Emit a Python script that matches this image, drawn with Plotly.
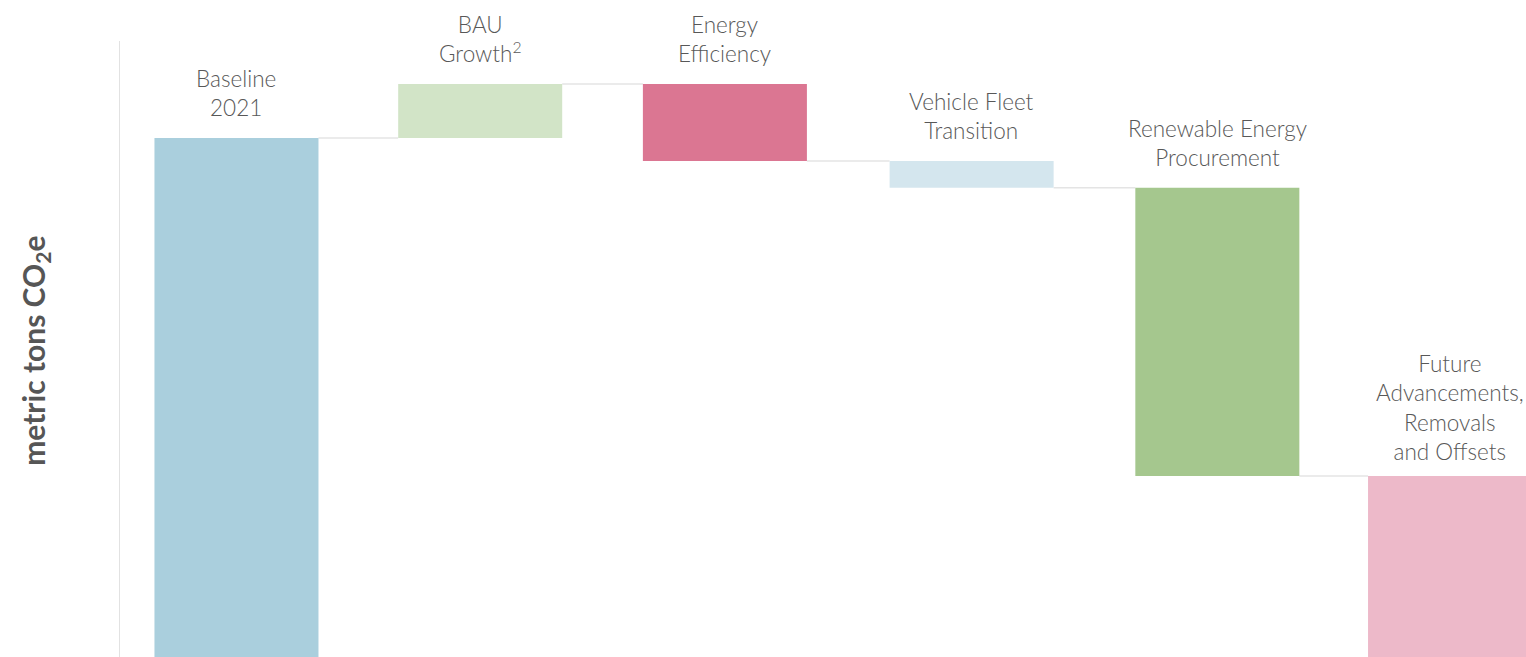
import plotly.graph_objects as go

# Emissions pathway (metric tons CO2e, indexed to the 2021 baseline = 100)
categories = [
    "Baseline<br>2021",
    "BAU<br>Growth<sup>2</sup>",
    "Energy<br>Efficiency",
    "Vehicle Fleet<br>Transition",
    "Renewable Energy<br>Procurement",
    "Future<br>Advancements,<br>Removals<br>and Offsets",
]
changes = [100.0, 10.4, -14.8, -5.2, -55.5, -34.9]
bar_colors = ["#aacfdd", "#d2e4c7", "#db7692", "#d4e6ee", "#a5c78e", "#edb9c9"]

# Small per-column nudges (pixels) for bar placement and label lift
col_nudge_px = [-1, -1, 0, 3, 5, -6]
label_lift_px = [15, 15, 15, 15, 15, 9]

# Floating-bar bases from the running total
bases, heights, tops, levels = [], [], [], []
running = 0.0
for i, c in enumerate(changes):
    new = c if i == 0 else running + c
    prev = 0.0 if i == 0 else running
    lo = min(prev, new)
    bases.append(lo)
    heights.append(abs(new - prev))
    tops.append(lo + heights[-1])
    running = new
    levels.append(running)

X_RANGE = [-0.482, 5.287]
PLOT_W = 1526 - 120
px_per_unit = PLOT_W / (X_RANGE[1] - X_RANGE[0])

BAR_GAP = 0.327
bar_w = 1 - BAR_GAP
half = bar_w / 2
centers = [i + col_nudge_px[i] / px_per_unit for i in range(len(categories))]

fig = go.Figure()
fig.add_trace(go.Bar(
    x=list(range(len(categories))),
    y=heights,
    base=bases,
    width=bar_w,
    offset=[centers[i] - i - half for i in range(len(categories))],
    marker=dict(color=bar_colors, line=dict(width=0)),
    hoverinfo="skip",
))

# Connector lines between consecutive bars at the running level
shapes = []
for i in range(len(changes) - 1):
    shapes.append(dict(
        type="line", xref="x", yref="y",
        x0=centers[i] + half, x1=centers[i + 1] - half,
        y0=levels[i], y1=levels[i],
        line=dict(color="#e4e4e4", width=1.5),
        layer="below",
    ))

label_font = dict(family="Lato", size=22.5, color="#585858", weight=300)
annotations = []
for i, cat in enumerate(categories):
    annotations.append(dict(
        x=centers[i], y=tops[i], xref="x", yref="y",
        text=cat, showarrow=False,
        yanchor="bottom", yshift=label_lift_px[i],
        font=label_font,
        align="center",
    ))

annotations.append(dict(
    x=-0.0605, y=0.497, xref="paper", yref="paper",
    text="<b>metric tons CO<sub>2</sub>e</b>", showarrow=False,
    textangle=-90, xanchor="center", yanchor="middle",
    font=dict(family="Lato", size=30, color="#565656"),
))

fig.update_layout(
    width=1526, height=657,
    margin=dict(l=120, r=0, t=41, b=0),
    paper_bgcolor="white", plot_bgcolor="white",
    bargap=BAR_GAP,
    showlegend=False,
    shapes=shapes,
    annotations=annotations,
    xaxis=dict(range=X_RANGE, showticklabels=False, showgrid=False,
               zeroline=False, showline=False, ticks=""),
    yaxis=dict(range=[0, 118.7], showticklabels=False, showgrid=False,
               zeroline=False, showline=True, linecolor="#e2e2e2",
               linewidth=1, ticks=""),
)

fig.write_html("out.html")
